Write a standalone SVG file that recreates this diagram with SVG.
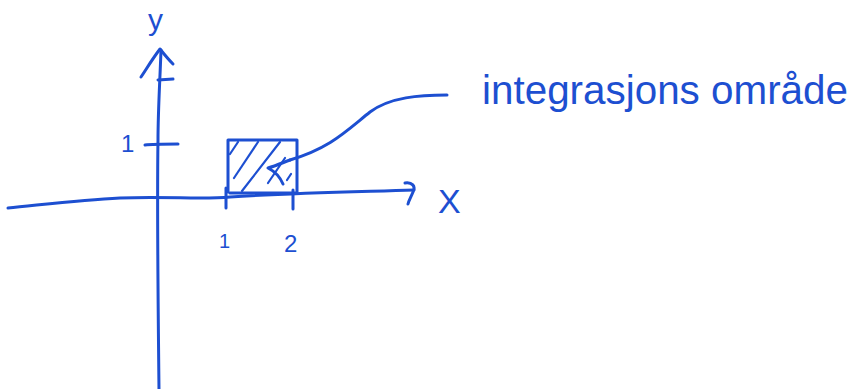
<svg xmlns="http://www.w3.org/2000/svg" width="862" height="389" viewBox="0 0 862 389">
<style>
.s{fill:none;stroke:#1d4fd1;stroke-width:3;stroke-linecap:round;stroke-linejoin:round}
.h{fill:none;stroke:#1d4fd1;stroke-width:2.2;stroke-linecap:round}
.t{fill:#1d4fd1;font-family:"Liberation Sans",Arial,sans-serif}
</style>
<rect width="862" height="389" fill="#fff"/>
<g id="y-axis">
<path class="s" d="M159,389 C158,300 157,200 158,140 C158,110 160,80 161,50"/>
<path class="s" d="M141,77 C147,68 153,58 160,49 C164,54 168,59 173,64"/>
<path class="s" d="M158,80 L173,79"/>
<text class="t" x="148" y="30" font-size="30">y</text>
</g>
<g id="x-axis">
<path class="s" d="M8,208 C40,205 80,200 120,198 C170,196 200,200 230,197 C290,193 350,192 414,190"/>
<path class="s" d="M405,183 C412,182 416,186 413,192 C411,197 409,200 408,204"/>
<text class="t" x="438" y="213" font-size="34">X</text>
</g>
<g id="ticks">
<path class="s" d="M145,145 C152,144 165,144 178,144"/>
<text class="t" x="121" y="152" font-size="24">1</text>
<path class="s" d="M226,188 L226,208"/>
<path class="s" d="M293,190 L293,209"/>
<text class="t" x="219" y="248" font-size="20">1</text>
<text class="t" x="284" y="252" font-size="24">2</text>
</g>
<g id="region">
<path class="s" d="M228,192 L228,140 L297,140 L297,193 L230,193"/>
<path class="h" d="M230,154 L238,142"/>
<path class="h" d="M234,178 L258,142"/>
<path class="h" d="M242,191 L280,142"/>
<path class="h" d="M268,183 L285,158"/>
<path class="h" d="M287,180 L291,174"/>
</g>
<g id="connectors">
<path class="s" d="M447,95 C420,95 390,97 370,112 C345,132 330,148 290,160"/>
<path class="s" d="M290,160 C282,163 275,166 268,168 C276,172 280,177 283,184"/>
</g>
<g id="label">
<text class="t" x="482" y="104" font-size="40" textLength="366" lengthAdjust="spacingAndGlyphs">integrasjons område</text>
</g>
</svg>
